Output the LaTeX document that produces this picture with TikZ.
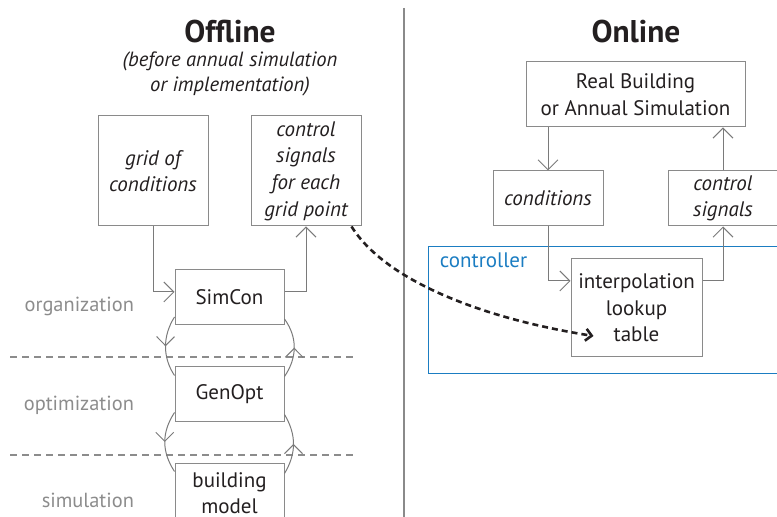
\documentclass[tikz,border=0pt]{standalone}
\usepackage{fontspec}
\setmainfont{PT Sans}
\usepackage{xcolor}
\usetikzlibrary{arrows.meta,decorations.markings}

\definecolor{ink}{HTML}{231F20}
\definecolor{boxgray}{HTML}{8A8A8A}
\definecolor{linegray}{HTML}{7A7A7A}
\definecolor{labelgray}{HTML}{8C8C8C}
\definecolor{ctrlblue}{HTML}{1B7DC2}

\tikzset{
    box/.style={draw=boxgray, line width=0.5pt, minimum width=55pt, minimum height=27.5pt,
        inner sep=1pt, align=center, text=ink, font=\fontsize{10.5}{13.3}\selectfont},
    flow/.style={draw=linegray, line width=0.5pt, -{Straight Barb[length=5pt,width=10pt]}},
    loop/.style={draw=linegray, line width=0.5pt, postaction={decorate},
        decoration={markings, mark=at position 0.5 with {\arrow{Straight Barb[length=4.5pt,width=9pt]}}}},
    layer/.style={text=labelgray, anchor=east, font=\fontsize{10.2}{12}\selectfont},
    heading/.style={text=ink, font=\fontsize{15.7}{18}\selectfont\bfseries},
}

\begin{document}
\begin{tikzpicture}[x=0.5pt, y=-0.5pt]

    \clip (0,0) rectangle (777,517);

    % Headings and separator
    \node[heading] (offline) at (230,32) {Offline};
    \node[text=ink, align=center, font=\fontsize{10.3}{12.5}\selectfont\itshape] (offsub) at (230,74)
        {(before annual simulation\\or implementation)};
    \node[heading] (online) at (636,32) {Online};
    \draw[boxgray, line width=1pt] (404,8) -- (404,517);

    % Offline: layers
    \draw[labelgray, line width=1pt, dash pattern=on 3.5pt off 2.5pt] (10,357) -- (357,357);
    \draw[labelgray, line width=1pt, dash pattern=on 3.5pt off 2.5pt] (10,455) -- (357,455);
    \node[layer] (orglbl) at (141,306) {organization};
    \node[layer] (optlbl) at (141,405) {optimization};
    \node[layer] (simlbl) at (141,500) {simulation};

    % Offline: boxes
    \node[box, minimum height=55pt, font=\fontsize{10.5}{13.3}\selectfont\itshape] (grid) at (153,171) {grid of\\conditions};
    \node[box, minimum height=55pt, font=\fontsize{10.5}{13.3}\selectfont\itshape] (ctrlsig) at (306,171) {control\\signals\\for each\\grid point};
    \node[box, minimum width=54.5pt] (simcon) at (229.5,297) {SimCon};
    \node[box, minimum width=54.5pt] (genopt) at (229.5,394.5) {GenOpt};
    \node[box, minimum width=54.5pt, minimum height=29pt] (bldg) at (229.5,493) {building\\model};

    \draw[flow] (grid.south) |- ([yshift=2.5pt]simcon.west);
    \draw[flow] ([yshift=2.5pt]simcon.east) -| (ctrlsig.south);

    % loops between layers
    \draw[loop] ([yshift=4pt]simcon.south west) .. controls +(-12,19) and +(-12,-18) .. ([yshift=-4.5pt]genopt.north west);
    \draw[loop] ([yshift=-5pt]genopt.north east) .. controls +(13,-19) and +(13,18) .. ([yshift=3pt]simcon.south east);
    \draw[loop] ([yshift=5pt]genopt.south west) .. controls +(-13,20) and +(-13,-20) .. ([yshift=-4pt]bldg.north west);
    \draw[loop] ([yshift=-5pt]bldg.north east) .. controls +(12,-20) and +(12,20) .. ([yshift=4pt]genopt.south east);

    % Online
    \node[box, minimum width=109.5pt, minimum height=32.5pt] (realbldg) at (635.5,94.5) {Real Building\\or Annual Simulation};
    \node[box, font=\fontsize{10.5}{13.3}\selectfont\itshape] (cond) at (548,198.5) {conditions};
    \node[box, font=\fontsize{10.5}{13.3}\selectfont\itshape] (onsig) at (723,198.5) {control\\signals};

    \node[draw=ctrlblue, line width=0.5pt, minimum width=181pt, minimum height=63.5pt] (controller) at (609,310.5) {};
    \node[text=ctrlblue, anchor=north west, inner sep=0pt, font=\fontsize{10.5}{12}\selectfont] (ctrllbl)
        at ([shift={(12,6)}]controller.north west) {controller};
    \node[box, minimum width=65.5pt, minimum height=49pt] (interp) at (636.5,308) {interpolation\\lookup\\table};

    \draw[flow] (cond.north |- realbldg.south) -- (cond.north);
    \draw[flow] (onsig.north) -- (onsig.north |- realbldg.south);
    \draw[flow] (cond.south) |- ([yshift=13.5pt]interp.west);
    \draw[flow] ([yshift=13.5pt]interp.east) -| (onsig.south);

    % lookup table filled from offline results
    \draw[ink, line width=1.3pt, dash pattern=on 3pt off 2pt, -{Straight Barb[length=3pt,width=6pt]}]
        ([xshift=-5pt]ctrlsig.south east) .. controls (385,280) and (480,318) .. ([shift={(-43,28)}]interp.center);

\end{tikzpicture}
\end{document}
